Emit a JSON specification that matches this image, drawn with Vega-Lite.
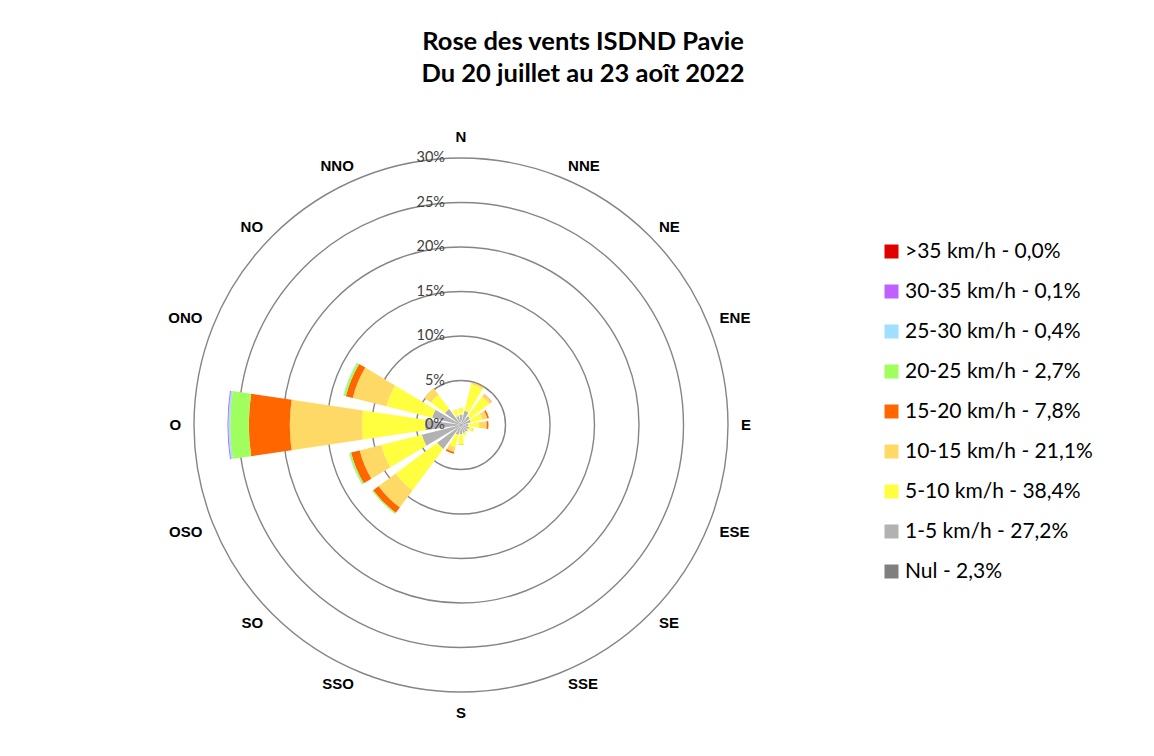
{
  "$schema": "https://vega.github.io/schema/vega-lite/v6.json",
  "width": 600,
  "height": 600,
  "autosize": "none",
  "padding": {"left": 161, "top": 125, "right": 393, "bottom": 31},
  "background": "white",
  "title": {
    "text": ["Rose des vents ISDND Pavie", "Du 20 juillet au 23 aoît 2022"],
    "font": "Lato", "fontSize": 25.5, "fontWeight": "bold", "color": "#000000",
    "anchor": "middle", "frame": "group", "dx": 122, "offset": 38, "lineHeight": 32
  },
  "config": {"view": {"stroke": null}},
  "datasets": {
    "rings": [{"r": 5}, {"r": 10}, {"r": 15}, {"r": 20}, {"r": 25}, {"r": 30}],
    "ticks": [{"r": 0, "t": "0%"}, {"r": 5, "t": "5%"}, {"r": 10, "t": "10%"}, {"r": 15, "t": "15%"}, {"r": 20, "t": "20%"}, {"r": 25, "t": "25%"}, {"r": 30, "t": "30%"}],
    "dirsLeft": [{"dir": "SSO"}, {"dir": "SO"}, {"dir": "OSO"}, {"dir": "O"}, {"dir": "ONO"}, {"dir": "NO"}, {"dir": "NNO"}],
    "dirsRight": [{"dir": "NNE"}, {"dir": "NE"}, {"dir": "ENE"}, {"dir": "E"}, {"dir": "ESE"}, {"dir": "SE"}, {"dir": "SSE"}],
    "dirsNS": [{"dir": "N"}, {"dir": "S"}],
    "rose": [
      {"dir": "N", "classe": "Nul - 2,3%", "k": 0, "pct": 0.14},
      {"dir": "N", "classe": "1-5 km/h - 27,2%", "k": 1, "pct": 1.0},
      {"dir": "N", "classe": "5-10 km/h - 38,4%", "k": 2, "pct": 0.8},
      {"dir": "NNE", "classe": "Nul - 2,3%", "k": 0, "pct": 0.14},
      {"dir": "NNE", "classe": "1-5 km/h - 27,2%", "k": 1, "pct": 1.5},
      {"dir": "NNE", "classe": "5-10 km/h - 38,4%", "k": 2, "pct": 3.1},
      {"dir": "NNE", "classe": "10-15 km/h - 21,1%", "k": 3, "pct": 0.2},
      {"dir": "NE", "classe": "Nul - 2,3%", "k": 0, "pct": 0.14},
      {"dir": "NE", "classe": "1-5 km/h - 27,2%", "k": 1, "pct": 1.1},
      {"dir": "NE", "classe": "5-10 km/h - 38,4%", "k": 2, "pct": 2.7},
      {"dir": "NE", "classe": "10-15 km/h - 21,1%", "k": 3, "pct": 0.35},
      {"dir": "NE", "classe": "15-20 km/h - 7,8%", "k": 4, "pct": 0.05},
      {"dir": "ENE", "classe": "Nul - 2,3%", "k": 0, "pct": 0.14},
      {"dir": "ENE", "classe": "1-5 km/h - 27,2%", "k": 1, "pct": 1.0},
      {"dir": "ENE", "classe": "5-10 km/h - 38,4%", "k": 2, "pct": 1.3},
      {"dir": "ENE", "classe": "10-15 km/h - 21,1%", "k": 3, "pct": 0.6},
      {"dir": "ENE", "classe": "15-20 km/h - 7,8%", "k": 4, "pct": 0.2},
      {"dir": "E", "classe": "Nul - 2,3%", "k": 0, "pct": 0.14},
      {"dir": "E", "classe": "1-5 km/h - 27,2%", "k": 1, "pct": 0.7},
      {"dir": "E", "classe": "5-10 km/h - 38,4%", "k": 2, "pct": 1.2},
      {"dir": "E", "classe": "10-15 km/h - 21,1%", "k": 3, "pct": 0.85},
      {"dir": "E", "classe": "15-20 km/h - 7,8%", "k": 4, "pct": 0.2},
      {"dir": "ESE", "classe": "Nul - 2,3%", "k": 0, "pct": 0.14},
      {"dir": "ESE", "classe": "1-5 km/h - 27,2%", "k": 1, "pct": 0.8},
      {"dir": "ESE", "classe": "5-10 km/h - 38,4%", "k": 2, "pct": 0.4},
      {"dir": "ESE", "classe": "10-15 km/h - 21,1%", "k": 3, "pct": 0.15},
      {"dir": "SE", "classe": "Nul - 2,3%", "k": 0, "pct": 0.14},
      {"dir": "SE", "classe": "1-5 km/h - 27,2%", "k": 1, "pct": 0.8},
      {"dir": "SE", "classe": "5-10 km/h - 38,4%", "k": 2, "pct": 0.15},
      {"dir": "SSE", "classe": "Nul - 2,3%", "k": 0, "pct": 0.14},
      {"dir": "SSE", "classe": "1-5 km/h - 27,2%", "k": 1, "pct": 0.8},
      {"dir": "SSE", "classe": "5-10 km/h - 38,4%", "k": 2, "pct": 0.3},
      {"dir": "S", "classe": "Nul - 2,3%", "k": 0, "pct": 0.14},
      {"dir": "S", "classe": "1-5 km/h - 27,2%", "k": 1, "pct": 0.9},
      {"dir": "S", "classe": "5-10 km/h - 38,4%", "k": 2, "pct": 1.1},
      {"dir": "S", "classe": "10-15 km/h - 21,1%", "k": 3, "pct": 0.1},
      {"dir": "SSO", "classe": "Nul - 2,3%", "k": 0, "pct": 0.14},
      {"dir": "SSO", "classe": "1-5 km/h - 27,2%", "k": 1, "pct": 1.0},
      {"dir": "SSO", "classe": "5-10 km/h - 38,4%", "k": 2, "pct": 1.4},
      {"dir": "SSO", "classe": "10-15 km/h - 21,1%", "k": 3, "pct": 0.6},
      {"dir": "SSO", "classe": "15-20 km/h - 7,8%", "k": 4, "pct": 0.2},
      {"dir": "SO", "classe": "Nul - 2,3%", "k": 0, "pct": 0.14},
      {"dir": "SO", "classe": "1-5 km/h - 27,2%", "k": 1, "pct": 3.2},
      {"dir": "SO", "classe": "5-10 km/h - 38,4%", "k": 2, "pct": 5.8},
      {"dir": "SO", "classe": "10-15 km/h - 21,1%", "k": 3, "pct": 2.4},
      {"dir": "SO", "classe": "15-20 km/h - 7,8%", "k": 4, "pct": 0.75},
      {"dir": "SO", "classe": "20-25 km/h - 2,7%", "k": 5, "pct": 0.15},
      {"dir": "OSO", "classe": "Nul - 2,3%", "k": 0, "pct": 0.14},
      {"dir": "OSO", "classe": "1-5 km/h - 27,2%", "k": 1, "pct": 4.4},
      {"dir": "OSO", "classe": "5-10 km/h - 38,4%", "k": 2, "pct": 4.7},
      {"dir": "OSO", "classe": "10-15 km/h - 21,1%", "k": 3, "pct": 2.5},
      {"dir": "OSO", "classe": "15-20 km/h - 7,8%", "k": 4, "pct": 1.0},
      {"dir": "OSO", "classe": "20-25 km/h - 2,7%", "k": 5, "pct": 0.2},
      {"dir": "OSO", "classe": "25-30 km/h - 0,4%", "k": 6, "pct": 0.05},
      {"dir": "O", "classe": "Nul - 2,3%", "k": 0, "pct": 0.14},
      {"dir": "O", "classe": "1-5 km/h - 27,2%", "k": 1, "pct": 3.9},
      {"dir": "O", "classe": "5-10 km/h - 38,4%", "k": 2, "pct": 7.1},
      {"dir": "O", "classe": "10-15 km/h - 21,1%", "k": 3, "pct": 8.1},
      {"dir": "O", "classe": "15-20 km/h - 7,8%", "k": 4, "pct": 4.6},
      {"dir": "O", "classe": "20-25 km/h - 2,7%", "k": 5, "pct": 2.1},
      {"dir": "O", "classe": "25-30 km/h - 0,4%", "k": 6, "pct": 0.2},
      {"dir": "O", "classe": "30-35 km/h - 0,1%", "k": 7, "pct": 0.1},
      {"dir": "ONO", "classe": "Nul - 2,3%", "k": 0, "pct": 0.14},
      {"dir": "ONO", "classe": "1-5 km/h - 27,2%", "k": 1, "pct": 3.2},
      {"dir": "ONO", "classe": "5-10 km/h - 38,4%", "k": 2, "pct": 5.3},
      {"dir": "ONO", "classe": "10-15 km/h - 21,1%", "k": 3, "pct": 3.9},
      {"dir": "ONO", "classe": "15-20 km/h - 7,8%", "k": 4, "pct": 0.8},
      {"dir": "ONO", "classe": "20-25 km/h - 2,7%", "k": 5, "pct": 0.25},
      {"dir": "ONO", "classe": "25-30 km/h - 0,4%", "k": 6, "pct": 0.05},
      {"dir": "NO", "classe": "Nul - 2,3%", "k": 0, "pct": 0.14},
      {"dir": "NO", "classe": "1-5 km/h - 27,2%", "k": 1, "pct": 2.1},
      {"dir": "NO", "classe": "5-10 km/h - 38,4%", "k": 2, "pct": 2.0},
      {"dir": "NO", "classe": "10-15 km/h - 21,1%", "k": 3, "pct": 0.9},
      {"dir": "NNO", "classe": "Nul - 2,3%", "k": 0, "pct": 0.14},
      {"dir": "NNO", "classe": "1-5 km/h - 27,2%", "k": 1, "pct": 0.9},
      {"dir": "NNO", "classe": "5-10 km/h - 38,4%", "k": 2, "pct": 0.8}
    ]
  },
  "layer": [
    {
      "data": {"name": "rings"},
      "mark": {"type": "arc", "filled": false, "stroke": "#858585", "strokeWidth": 1.4},
      "encoding": {
        "theta": {"value": 0},
        "theta2": {"value": 6.2832},
        "radius": {"field": "r", "type": "quantitative", "stack": null, "scale": {"type": "linear", "domain": [0, 30], "range": [0, 267], "zero": true}}
      }
    },
    {
      "data": {"name": "rose"},
      "mark": {"type": "arc"},
      "encoding": {
        "theta": {"field": "dir", "type": "nominal", "scale": {"type": "band", "domain": ["N", "NNE", "NE", "ENE", "E", "ESE", "SE", "SSE", "S", "SSO", "SO", "OSO", "O", "ONO", "NO", "NNO"], "range": [-0.19635, 6.08684], "paddingInner": 0.25, "paddingOuter": 0.125}},
        "radius": {"field": "pct", "type": "quantitative", "stack": "zero", "scale": {"type": "linear", "domain": [0, 30], "range": [0, 267], "zero": true}},
        "color": {
          "field": "classe", "type": "nominal",
          "scale": {
            "domain": [">35 km/h - 0,0%", "30-35 km/h - 0,1%", "25-30 km/h - 0,4%", "20-25 km/h - 2,7%", "15-20 km/h - 7,8%", "10-15 km/h - 21,1%", "5-10 km/h - 38,4%", "1-5 km/h - 27,2%", "Nul - 2,3%"],
            "range": ["#e00000", "#c060ff", "#9fdfff", "#a0ff5f", "#ff6600", "#ffd966", "#ffff40", "#b2b2b2", "#7f7f7f"]
          },
          "legend": {
            "title": null, "orient": "none", "legendX": 720, "legendY": 116, "padding": 0,
            "symbolType": "square", "symbolSize": 196, "symbolStrokeWidth": 0,
            "labelFont": "Lato", "labelFontSize": 21, "labelColor": "#000000",
            "labelOffset": 3, "rowPadding": 18, "labelLimit": 300
          }
        },
        "order": {"field": "k", "type": "quantitative"}
      }
    },
    {
      "data": {"name": "dirsLeft"},
      "mark": {"type": "text", "font": "Liberation Sans", "fontSize": 15, "fontWeight": "bold", "color": "#000000", "align": "right", "baseline": "middle"},
      "encoding": {
        "theta": {"field": "dir", "type": "nominal"},
        "radius": {"datum": 31.45, "type": "quantitative"},
        "text": {"field": "dir"}
      }
    },
    {
      "data": {"name": "dirsRight"},
      "mark": {"type": "text", "font": "Liberation Sans", "fontSize": 15, "fontWeight": "bold", "color": "#000000", "align": "left", "baseline": "middle"},
      "encoding": {
        "theta": {"field": "dir", "type": "nominal"},
        "radius": {"datum": 31.45, "type": "quantitative"},
        "text": {"field": "dir"}
      }
    },
    {
      "data": {"name": "dirsNS"},
      "mark": {"type": "text", "font": "Liberation Sans", "fontSize": 15, "fontWeight": "bold", "color": "#000000", "align": "center", "baseline": "middle"},
      "encoding": {
        "theta": {"field": "dir", "type": "nominal"},
        "radius": {"datum": 32.35, "type": "quantitative"},
        "text": {"field": "dir"}
      }
    },
    {
      "data": {"name": "ticks"},
      "mark": {"type": "text", "font": "Lato", "fontSize": 14.5, "color": "#404040", "align": "right", "baseline": "middle", "dx": -16},
      "encoding": {
        "theta": {"value": 0},
        "radius": {"field": "r", "type": "quantitative", "stack": null},
        "text": {"field": "t"}
      }
    }
  ]
}
